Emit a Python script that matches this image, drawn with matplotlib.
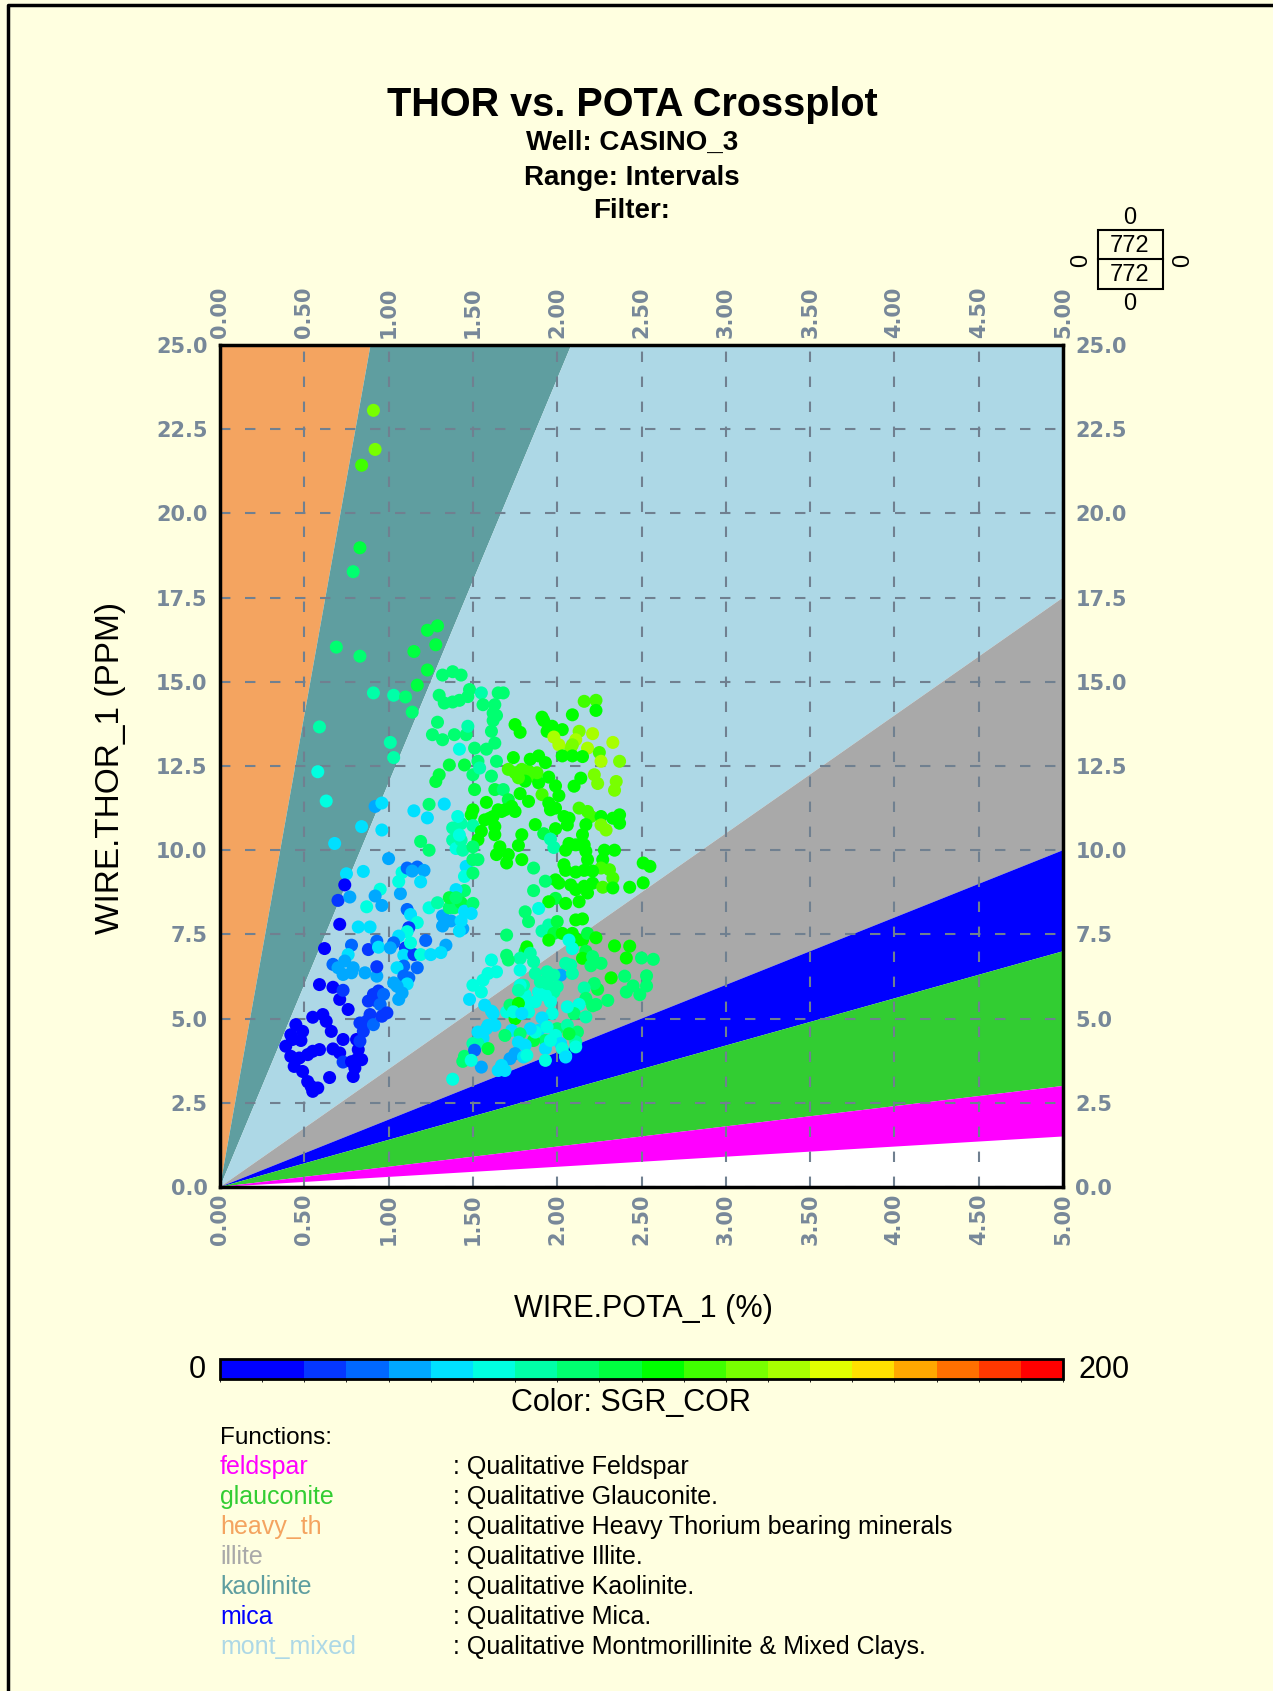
"""THOR vs. POTA crossplot with clay-mineral zones, coloured by SGR_COR."""

import matplotlib

matplotlib.use("Agg")
import matplotlib.pyplot as plt  # noqa: E402
import numpy as np
from matplotlib.colors import BoundaryNorm, ListedColormap
from matplotlib.lines import Line2D
from matplotlib.patches import Rectangle

W, H = 1273, 1691
BG = "#FFFFE0"
TICK = "#778899"
FONT = "Liberation Sans"

# Th/K ratio zone boundaries (lower, upper), thorium ppm per potassium %
ZONE_NAMES = ["heavy_th", "kaolinite", "mont_mixed", "illite", "mica", "glauconite", "feldspar"]
ZONE_LOW = [28.0, 12.0, 3.5, 2.0, 1.4, 0.6, 0.3]
ZONE_HIGH = [None, 28.0, 12.0, 3.5, 2.0, 1.4, 0.6]
ZONE_COLORS = ["#F4A460", "#5F9EA0", "#ADD8E6", "#A9A9A9", "#0000FF", "#32CD32", "#FF00FF"]
ZONE_DESC = [
    ": Qualitative Feldspar",
    ": Qualitative Glauconite.",
    ": Qualitative Heavy Thorium bearing minerals",
    ": Qualitative Illite.",
    ": Qualitative Kaolinite.",
    ": Qualitative Mica.",
    ": Qualitative Montmorillinite & Mixed Clays.",
]
LEGEND_NAMES = ["feldspar", "glauconite", "heavy_th", "illite", "kaolinite", "mica", "mont_mixed"]
LEGEND_COLORS = ["#FF00FF", "#32CD32", "#F4A460", "#A9A9A9", "#5F9EA0", "#0000FF", "#ADD8E6"]

X_TICKS = [0.0, 0.5, 1.0, 1.5, 2.0, 2.5, 3.0, 3.5, 4.0, 4.5, 5.0]
Y_TICKS = [0.0, 2.5, 5.0, 7.5, 10.0, 12.5, 15.0, 17.5, 20.0, 22.5, 25.0]

CB_COLORS = [
    "#0000FF", "#0000FF", "#0537FF", "#0068FF", "#00A8FF", "#00E0FF", "#00FFE0",
    "#00FFA8", "#00FF70", "#00FF40", "#00FF00", "#40FF00", "#78FF00", "#A8FF00",
    "#E0FF00", "#FFE000", "#FFA800", "#FF7000", "#FF3800", "#FF0000",
]

# (POTA %, THOR ppm, SGR_COR)
UPPER_SPARSE = [
    (0.91, 23.06, 125), (0.92, 21.90, 125), (0.84, 21.43, 115), (0.83, 18.98, 95),
    (0.79, 18.27, 85), (1.29, 16.66, 95), (1.23, 16.53, 95),
    (0.69, 16.03, 85), (0.83, 15.76, 85), (1.15, 15.90, 95), (1.28, 16.10, 95),
    (1.23, 15.35, 95), (1.17, 14.90, 95), (1.32, 15.20, 85), (1.38, 15.30, 85),
    (1.43, 15.20, 85), (0.91, 14.67, 75), (1.03, 14.60, 75), (1.10, 14.55, 85),
    (1.14, 14.10, 85), (0.59, 13.66, 75), (1.01, 13.20, 75), (1.03, 12.75, 75),
    (0.58, 12.33, 65), (0.63, 11.46, 65), (0.92, 11.30, 45), (0.96, 11.40, 55),
    (0.84, 10.70, 55), (0.96, 10.60, 55), (0.68, 10.20, 55), (1.00, 9.75, 45),
    (0.75, 9.30, 55), (0.85, 9.37, 55), (1.08, 9.34, 65), (1.11, 9.47, 35),
    (1.17, 9.50, 35), (1.14, 9.38, 45), (1.21, 9.40, 45), (1.15, 11.17, 55),
    (1.23, 10.96, 55), (1.19, 10.26, 85), (1.24, 10.00, 85), (1.24, 11.36, 85),
]

UPPER_GREEN = [
    (1.30, 14.60, 85), (1.33, 14.37, 85), (1.38, 14.40, 85), (1.42, 14.45, 85),
    (1.47, 14.56, 85), (1.48, 14.77, 85), (1.55, 14.67, 75), (1.56, 14.32, 85),
    (1.65, 14.67, 85), (1.68, 14.67, 85), (1.63, 14.32, 85), (1.62, 14.07, 85),
    (1.64, 14.00, 85), (1.62, 13.85, 85), (1.29, 13.80, 85), (1.26, 13.43, 85),
    (1.32, 13.28, 85), (1.39, 13.43, 85), (1.46, 13.43, 85), (1.47, 13.68, 75),
    (1.42, 13.00, 65), (1.51, 13.03, 85), (1.58, 13.00, 85), (1.63, 13.18, 85),
    (1.61, 13.53, 85), (1.36, 12.53, 95), (1.45, 12.53, 95), (1.30, 12.24, 95),
    (1.28, 12.04, 95), (1.50, 12.24, 85), (1.53, 12.64, 85), (1.54, 12.44, 75),
    (1.64, 12.64, 85), (1.61, 12.20, 85), (1.51, 11.80, 95), (1.63, 11.80, 95),
    (1.68, 11.80, 85), (1.71, 11.50, 95),
    (1.71, 12.40, 115), (1.75, 12.30, 115), (1.79, 12.40, 115), (1.83, 12.35, 115),
    (1.86, 12.20, 115), (1.89, 12.00, 105), (1.88, 12.30, 115), (1.81, 12.05, 105),
    (1.77, 12.15, 115), (1.84, 12.70, 105), (1.89, 12.80, 105), (1.93, 12.60, 105),
    (1.74, 12.75, 105), (1.75, 13.73, 105), (1.78, 13.50, 105), (1.91, 13.95, 105),
    (1.92, 13.85, 105), (2.09, 14.02, 105), (1.97, 13.68, 105), (1.94, 13.53, 105),
    (2.03, 13.58, 105), (2.13, 13.53, 125), (2.11, 13.28, 135), (2.09, 13.13, 125),
    (2.08, 13.03, 125), (1.98, 13.36, 135), (2.01, 13.13, 135), (2.16, 14.42, 115),
    (2.23, 14.45, 115), (2.23, 14.15, 105), (2.21, 13.46, 135), (2.18, 13.03, 135),
    (2.33, 13.20, 135), (2.03, 12.80, 105), (2.09, 12.80, 105), (2.15, 12.78, 105),
    (2.25, 12.90, 115), (2.26, 12.64, 135), (2.37, 12.64, 125), (2.22, 12.24, 125),
    (2.24, 11.98, 125), (2.35, 12.04, 125), (2.34, 11.78, 125), (2.14, 12.14, 105),
    (2.10, 11.90, 105), (1.95, 12.17, 105), (1.99, 11.91, 105), (2.01, 11.62, 105),
    (1.91, 11.65, 115), (1.78, 11.68, 105), (1.58, 11.42, 105), (1.65, 11.20, 105),
    (1.67, 11.15, 105), (1.69, 11.20, 105), (1.62, 11.00, 105), (1.60, 10.95, 105),
    (1.57, 10.90, 105), (1.50, 11.20, 105), (1.49, 11.05, 105), (1.43, 10.79, 75),
    (1.41, 11.00, 65), (1.38, 10.66, 75), (1.50, 10.73, 75), (1.55, 10.56, 105),
    (1.53, 10.31, 105), (1.63, 10.70, 105), (1.63, 10.46, 105), (1.66, 10.10, 105),
    (1.64, 9.87, 105), (1.71, 9.87, 105), (1.70, 9.62, 105), (1.75, 11.15, 105),
    (1.73, 11.30, 105), (1.83, 11.45, 105), (1.95, 11.40, 105), (1.96, 11.20, 105),
    (1.99, 11.25, 105), (2.04, 11.00, 105), (2.07, 10.95, 105), (2.06, 10.75, 105),
    (2.13, 11.25, 115), (2.18, 11.15, 115), (2.20, 11.00, 115), (2.26, 11.00, 105),
    (2.33, 10.95, 105), (2.37, 11.05, 105), (2.37, 10.80, 105), (2.26, 10.75, 125),
    (2.29, 10.60, 125), (2.17, 10.76, 105), (2.15, 10.46, 105), (1.87, 10.76, 105),
    (1.92, 10.49, 95), (1.99, 10.64, 105), (1.79, 10.46, 105), (1.77, 10.14, 105),
    (1.79, 9.72, 105), (1.86, 9.47, 85), (1.96, 10.33, 75), (1.98, 10.08, 75),
    (2.05, 10.00, 105), (2.07, 10.20, 105), (2.11, 10.16, 105), (2.16, 10.16, 105),
    (2.17, 9.97, 105), (2.18, 9.72, 105), (2.27, 9.72, 105), (2.28, 10.00, 105),
    (2.34, 10.00, 105), (2.26, 9.47, 115), (2.31, 9.42, 115), (2.05, 9.40, 105),
    (2.11, 9.35, 105), (2.16, 9.40, 105), (2.21, 9.38, 105), (2.04, 9.57, 105),
    (2.21, 9.02, 105), (2.27, 8.90, 115), (2.33, 9.17, 115), (2.33, 8.88, 105),
    (2.43, 8.90, 105), (2.51, 9.62, 105), (2.55, 9.52, 105), (2.51, 9.03, 105),
    (1.99, 9.12, 105), (2.01, 9.02, 105), (2.08, 8.97, 105), (2.11, 8.83, 105),
    (2.16, 8.93, 105), (2.18, 8.73, 105), (1.93, 9.08, 85), (1.86, 8.80, 85),
    (1.45, 8.80, 85), (1.40, 8.83, 55), (1.46, 9.52, 55), (1.45, 9.22, 65),
    (1.50, 9.32, 85), (1.33, 11.37, 55), (1.38, 10.30, 75), (1.40, 10.05, 65),
    (1.43, 10.30, 75), (1.44, 10.00, 75), (1.42, 10.45, 65), (1.50, 10.10, 85),
    (1.53, 9.72, 85), (1.50, 9.72, 85),
]

LOWER_BLUE = [
    (0.45, 4.82, 10), (0.42, 4.52, 10), (0.39, 4.18, 10), (0.43, 4.38, 10),
    (0.48, 4.35, 10), (0.49, 4.62, 10), (0.42, 3.88, 10), (0.47, 3.83, 10),
    (0.44, 3.58, 10), (0.49, 3.43, 10), (0.52, 3.13, 10), (0.55, 2.84, 10),
    (0.58, 2.94, 10), (0.54, 2.99, 10), (0.52, 3.93, 10), (0.55, 4.03, 10),
    (0.59, 4.08, 10), (0.55, 5.04, 10), (0.61, 5.12, 10), (0.63, 4.92, 10),
    (0.66, 4.62, 10), (0.73, 4.38, 10), (0.67, 4.10, 10), (0.71, 3.98, 10),
    (0.73, 3.71, 25), (0.65, 3.25, 10), (0.78, 3.72, 10), (0.81, 3.78, 10),
    (0.84, 3.78, 10), (0.80, 3.53, 10), (0.79, 3.28, 10), (0.82, 4.08, 10),
    (0.81, 4.38, 10), (0.83, 4.33, 25), (0.85, 4.62, 25), (0.83, 4.87, 25),
    (0.87, 4.92, 25), (0.89, 5.12, 25), (0.91, 4.82, 35), (0.88, 5.52, 25),
    (0.91, 5.72, 25), (0.94, 5.82, 25), (0.93, 5.52, 25), (0.95, 5.42, 35),
    (0.97, 5.72, 35), (0.99, 5.17, 25), (0.96, 5.07, 25), (0.76, 5.27, 10),
    (0.71, 5.57, 10), (0.67, 5.93, 10), (0.73, 5.84, 25), (0.59, 6.01, 10),
    (0.62, 7.08, 10), (0.71, 7.80, 10), (0.74, 8.97, 10), (0.70, 8.51, 25),
    (0.77, 8.61, 45), (0.78, 7.18, 35), (0.88, 7.05, 25), (0.93, 7.30, 35),
    (0.94, 7.12, 55), (0.76, 6.90, 55), (0.82, 7.72, 55), (0.89, 7.72, 55),
    (0.67, 6.61, 35), (0.70, 6.51, 45), (0.74, 6.71, 45), (0.79, 6.51, 45),
    (0.73, 6.31, 45), (0.78, 6.36, 45), (0.86, 6.36, 45), (0.93, 6.26, 45),
    (0.93, 6.54, 25), (0.95, 8.84, 65), (0.92, 8.64, 45), (0.96, 8.36, 45),
    (0.87, 8.32, 65), (1.07, 8.71, 45), (1.06, 9.07, 65), (1.19, 9.06, 55),
    (1.11, 8.24, 35), (1.13, 8.09, 55), (1.17, 7.85, 65), (1.12, 7.70, 25),
    (1.11, 7.58, 65), (1.06, 7.45, 55), (1.03, 7.25, 35), (1.01, 7.10, 45),
    (1.10, 7.10, 25), (1.09, 6.88, 55), (1.15, 6.90, 25), (1.13, 7.25, 65),
    (1.19, 6.90, 65), (1.22, 7.32, 35), (1.25, 6.90, 55), (1.17, 6.51, 35),
    (1.09, 6.56, 35), (1.05, 6.51, 55), (1.09, 6.26, 35), (1.12, 6.21, 35),
    (1.11, 6.03, 55), (1.03, 6.06, 45), (1.05, 5.96, 45), (1.08, 5.76, 45),
    (1.06, 5.57, 45), (1.34, 7.18, 45), (1.31, 6.96, 55), (1.32, 7.75, 45),
    (1.37, 7.90, 45), (1.44, 7.67, 45), (1.43, 7.90, 55), (1.42, 7.60, 55),
    (1.32, 8.05, 45), (1.24, 8.29, 65), (1.29, 8.44, 75), (1.36, 8.29, 85),
    (1.39, 8.29, 85), (1.43, 8.44, 95), (1.36, 8.59, 95), (1.40, 8.59, 85),
    (1.45, 8.19, 55), (1.48, 5.57, 55), (1.45, 3.88, 85), (1.44, 3.73, 85),
    (1.47, 3.83, 85), (1.38, 3.20, 65),
]

LOWER_GREEN = [
    (1.99, 8.57, 95), (2.13, 8.47, 105), (2.05, 8.42, 105), (1.95, 8.47, 105),
    (1.89, 8.27, 65), (1.81, 8.17, 85), (1.83, 7.88, 85), (1.95, 7.78, 75),
    (2.00, 7.88, 95), (1.91, 7.60, 75), (1.98, 7.53, 95), (1.95, 7.33, 105),
    (2.03, 7.53, 105), (2.09, 7.53, 105), (2.11, 7.93, 105), (2.15, 7.96, 105),
    (2.12, 7.33, 105), (2.15, 7.33, 105), (2.18, 7.53, 95), (2.23, 7.40, 105),
    (2.07, 7.33, 65), (2.09, 7.08, 65), (2.17, 7.00, 95), (2.15, 6.79, 105),
    (2.21, 6.84, 85), (2.20, 6.57, 85), (2.26, 6.64, 85), (2.05, 6.64, 75),
    (2.08, 6.59, 75), (2.02, 6.29, 45), (2.09, 6.34, 75), (2.34, 7.16, 105),
    (2.43, 7.15, 105), (2.41, 6.80, 105), (2.50, 6.80, 85), (2.57, 6.76, 85),
    (2.32, 6.21, 105), (2.40, 6.26, 85), (2.53, 6.27, 85), (2.45, 5.97, 85),
    (2.53, 5.97, 85), (2.41, 5.79, 85), (2.49, 5.71, 85), (2.24, 5.87, 95),
    (2.22, 6.04, 85), (2.16, 5.91, 75), (2.30, 5.54, 85), (2.17, 5.60, 85),
    (2.23, 5.42, 85), (2.21, 5.38, 85), (2.13, 5.42, 65), (2.10, 5.15, 85),
    (2.17, 5.05, 75), (2.12, 4.60, 85), (2.11, 4.31, 75), (2.11, 4.16, 65),
    (2.05, 3.89, 65), (2.00, 4.70, 85), (2.06, 4.80, 75), (2.07, 4.55, 95),
    (2.06, 5.35, 65), (1.96, 5.64, 65), (1.98, 5.79, 75), (2.00, 5.95, 75),
    (1.93, 5.69, 65), (1.89, 5.79, 65), (1.96, 5.50, 65), (1.97, 5.15, 65),
    (1.91, 5.02, 55), (1.89, 4.65, 55), (1.94, 4.75, 65), (1.93, 4.35, 85),
    (1.99, 4.50, 65), (2.02, 4.26, 55), (1.93, 4.11, 55), (1.93, 3.76, 65),
    (1.86, 4.35, 95), (1.87, 4.60, 65), (1.84, 4.70, 55), (1.83, 5.20, 65),
    (1.87, 5.50, 65), (1.82, 5.45, 65), (1.81, 5.70, 65), (1.80, 5.99, 75),
    (1.78, 5.99, 65), (1.87, 6.34, 75), (1.90, 6.09, 75), (1.94, 6.04, 75),
    (1.98, 6.29, 75), (1.94, 6.39, 75), (1.86, 6.69, 75), (1.81, 7.00, 95),
    (1.82, 7.13, 105), (1.78, 6.79, 75), (1.84, 6.94, 75), (1.70, 6.88, 85),
    (1.71, 6.74, 85), (1.70, 7.48, 85), (1.78, 6.44, 65), (1.77, 5.84, 75),
    (1.61, 6.74, 65), (1.64, 6.39, 65), (1.59, 6.34, 65), (1.56, 6.14, 65),
    (1.50, 5.99, 65), (1.55, 5.79, 65), (1.57, 5.40, 55), (1.61, 5.22, 55),
    (1.62, 5.15, 55), (1.58, 4.70, 55), (1.59, 4.80, 55), (1.63, 4.80, 55),
    (1.56, 4.42, 55), (1.53, 4.26, 75), (1.50, 4.26, 75), (1.51, 4.06, 35),
    (1.59, 4.11, 95), (1.70, 5.20, 65), (1.72, 5.40, 85), (1.77, 5.45, 105),
    (1.75, 5.00, 105), (1.74, 5.20, 65), (1.79, 5.15, 55), (1.73, 4.65, 55),
    (1.78, 4.55, 85), (1.69, 4.50, 85), (1.77, 4.30, 55), (1.81, 4.21, 55),
    (1.75, 3.96, 45), (1.72, 3.81, 45), (1.67, 3.61, 55), (1.69, 3.46, 55),
    (1.65, 3.46, 55), (1.80, 3.86, 55), (1.82, 3.91, 65), (1.96, 4.35, 65),
    (2.03, 4.11, 65), (2.05, 3.86, 55), (1.55, 3.56, 45), (1.49, 3.76, 65),
    (1.53, 4.60, 55), (1.50, 8.42, 85), (1.49, 8.12, 55),
]


def fx(px):
    return px / W


def fy(py):
    return 1 - py / H


pts = np.array(UPPER_SPARSE + UPPER_GREEN + LOWER_BLUE + LOWER_GREEN, dtype=float)
pota, thor, sgr = pts[:, 0], pts[:, 1], pts[:, 2]

cmap = ListedColormap(CB_COLORS)
norm = BoundaryNorm(np.linspace(0, 200, len(CB_COLORS) + 1), cmap.N)

fig = plt.figure(figsize=(W / 100, H / 100), dpi=100, facecolor=BG)

# page frame (top and left edges only show in the original)
fig.add_artist(Line2D([fx(8), fx(8), 1.0], [0.0, fy(5), fy(5)], transform=fig.transFigure,
                      color="black", lw=2.5))

ax = fig.add_axes([fx(220), fy(1187), (1063 - 220) / W, (1187 - 345) / H])
ax.set_xlim(0, 5)
ax.set_ylim(0, 25)
ax.set_facecolor("white")

big = 1000.0
for low, high, col in zip(ZONE_LOW, ZONE_HIGH, ZONE_COLORS):
    if high is None:
        poly_x = [0, 0, big / low]
        poly_y = [0, big, big]
    else:
        poly_x = [0, big, big]
        poly_y = [0, big * low, big * high]
    ax.fill(poly_x, poly_y, color=col, lw=0, zorder=1)

ax.scatter(pota, thor, c=sgr, cmap=cmap, norm=norm, s=88, linewidths=0, zorder=3)

ax.set_xticks(X_TICKS)
ax.set_yticks(Y_TICKS)
ax.set_xticklabels([f"{v:.2f}" for v in X_TICKS], rotation=90)
ax.set_yticklabels([f"{v:.1f}" for v in Y_TICKS])
ax.tick_params(axis="both", length=0, labelsize=15, labelcolor=TICK,
               top=False, labeltop=True, right=False, labelright=True)
ax.tick_params(axis="x", pad=5)
ax.tick_params(axis="y", pad=9)
for lab in ax.get_xticklabels() + ax.get_yticklabels():
    lab.set_fontweight("bold")
    lab.set_family("DejaVu Sans")
ax.set_axisbelow(False)
ax.grid(True, color="#708090", ls=(0, (5, 7)), lw=1.5)
for sp in ax.spines.values():
    sp.set_linewidth(2.5)
    sp.set_color("black")
    sp.set_zorder(4)

ax.set_xlabel("WIRE.POTA_1 (%)", family=FONT, fontsize=22, labelpad=0)
ax.xaxis.set_label_coords((643 - 220) / (1063 - 220), -(1294 - 1187) / (1187 - 345))
ax.set_ylabel("WIRE.THOR_1 (PPM)", family=FONT, fontsize=24)
ax.yaxis.set_label_coords(-(220 - 126) / (1063 - 220), (1187 - 768) / (1187 - 345))

# titles
fig.text(fx(632), fy(105), "THOR vs. POTA Crossplot", ha="center", va="center",
         family=FONT, fontsize=28.5, fontweight="bold")
for txt, y in [("Well: CASINO_3", 143), ("Range: Intervals", 178), ("Filter:", 211)]:
    fig.text(fx(632), fy(y), txt, ha="center", va="center", family=FONT,
             fontsize=20, fontweight="bold")

# point-count box
fig.add_artist(Rectangle((fx(1098), fy(289)), 65 / W, 59 / H, transform=fig.transFigure,
                         fill=False, ec="black", lw=1.5))
fig.add_artist(Line2D([fx(1098), fx(1163)], [fy(259), fy(259)], transform=fig.transFigure,
                      color="black", lw=1.5))
n_pts = "772"
fig.text(fx(1130), fy(246), n_pts, ha="center", va="center", family=FONT, fontsize=17)
fig.text(fx(1130), fy(275), n_pts, ha="center", va="center", family=FONT, fontsize=17)
fig.text(fx(1130), fy(218), "0", ha="center", va="center", family=FONT, fontsize=17)
fig.text(fx(1130), fy(304), "0", ha="center", va="center", family=FONT, fontsize=17)
fig.text(fx(1081), fy(260), "0", ha="center", va="center", family=FONT, fontsize=17, rotation=90)
fig.text(fx(1183), fy(260), "0", ha="center", va="center", family=FONT, fontsize=17, rotation=90)

# colour bar
cax = fig.add_axes([fx(220), fy(1379), (1063 - 220) / W, 20 / H])
sm = plt.cm.ScalarMappable(norm=norm, cmap=cmap)
cb = fig.colorbar(sm, cax=cax, orientation="horizontal")
cb.set_ticks([])
cb.outline.set_linewidth(2)
fig.text(fx(197), fy(1370), "0", ha="center", va="center", family=FONT, fontsize=22)
fig.text(fx(1078), fy(1370), "200", ha="left", va="center", family=FONT, fontsize=22)
fig.text(fx(631), fy(1403), "Color: SGR_COR", ha="center", va="center", family=FONT, fontsize=22)

# function legend
fig.text(fx(220), fy(1438), "Functions:", ha="left", va="center", family=FONT, fontsize=17.5)
for k, (name, col, desc) in enumerate(zip(LEGEND_NAMES, LEGEND_COLORS, ZONE_DESC)):
    y = 1467 + 30 * k
    fig.text(fx(220), fy(y), name, ha="left", va="center", family=FONT, fontsize=18, color=col)
    fig.text(fx(453), fy(y), desc, ha="left", va="center", family=FONT, fontsize=18)

fig.savefig("out.png", dpi=100, facecolor=BG)
